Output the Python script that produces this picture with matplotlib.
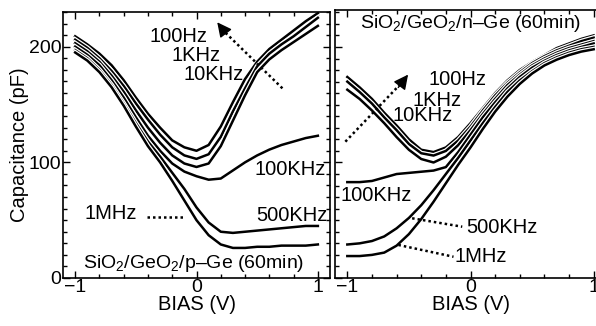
import matplotlib
matplotlib.use('Agg')
import matplotlib.pyplot as plt
import matplotlib.patheffects as pe
from matplotlib.ticker import MultipleLocator, FixedLocator

plt.rcParams['font.family'] = ['Liberation Sans', 'DejaVu Sans']
plt.rcParams['mathtext.fontset'] = 'custom'
plt.rcParams['mathtext.rm'] = 'Liberation Sans'

bias = [-1.0, -0.9, -0.8, -0.7, -0.6, -0.5, -0.4, -0.3, -0.2, -0.1, 0.0,
        0.1, 0.2, 0.3, 0.4, 0.5, 0.6, 0.7, 0.8, 0.9, 1.0]
freqs = ['100Hz', '1KHz', '10KHz', '100KHz', '500KHz', '1MHz']

# p-Ge (left panel), pF
p_100Hz = [209, 202, 194, 184, 171, 156, 142, 130, 119, 113, 110, 115, 131, 152, 172, 187, 198, 206, 214, 222, 229]
p_1KHz = [206, 199, 190, 179, 166, 151, 137, 124, 113, 106, 103, 107, 122, 144, 164, 183, 194, 202, 209, 217, 225]
p_10KHz = [203, 196, 187, 175, 161, 145, 130, 117, 106, 99, 96, 99, 114, 136, 158, 178, 189, 197, 204, 211, 218]
p_100KHz = [200, 193, 184, 171, 156, 139, 123, 110, 99, 92, 88, 85, 86, 93, 100, 106, 111, 115, 118, 121, 123]
p_500KHz = [197, 190, 180, 167, 151, 134, 118, 105, 91, 77, 61, 48, 40, 39, 40, 41, 42, 43, 44, 45, 45]
p_1MHz = [195, 188, 178, 165, 149, 131, 114, 100, 84, 67, 50, 37, 29, 26, 26, 27, 27, 28, 28, 28, 29]

# n-Ge (right panel), pF
n_100Hz = [174, 165, 155, 143, 132, 120, 111, 109, 113, 122, 134, 147, 160, 171, 180, 187, 193, 199, 203, 207, 210]
n_1KHz = [170, 161, 151, 139, 128, 116, 108, 106, 110, 119, 131, 145, 158, 169, 178, 186, 192, 197, 201, 205, 208]
n_10KHz = [163, 155, 145, 134, 122, 111, 103, 100, 105, 115, 128, 142, 155, 167, 176, 184, 190, 195, 199, 202, 205]
n_100KHz = [83, 83, 84, 87, 90, 91, 92, 93, 96, 109, 124, 139, 152, 164, 174, 182, 188, 193, 197, 200, 203]
n_500KHz = [29, 30, 32, 36, 43, 52, 63, 76, 90, 104, 119, 134, 148, 161, 171, 179, 186, 191, 195, 198, 200]
n_1MHz = [19, 19, 20, 22, 28, 38, 51, 66, 82, 98, 113, 129, 144, 157, 168, 177, 184, 189, 193, 196, 198]

p_curves = [p_100Hz, p_1KHz, p_10KHz, p_100KHz, p_500KHz, p_1MHz]
n_curves = [n_100Hz, n_1KHz, n_10KHz, n_100KHz, n_500KHz, n_1MHz]

fig = plt.figure(figsize=(5.96, 3.26), dpi=100)
ax1 = fig.add_axes([63/596, 48/326, 267/596, 266/326])
ax2 = fig.add_axes([335/596, 48/326, 271/596, 268/326])

halo = [pe.Stroke(linewidth=3.6, foreground='white'), pe.Normal()]
dots = (0, (1, 1.2))

for ax, curves, ytop in [(ax1, p_curves, 230), (ax2, n_curves, 232)]:
    for c in curves:
        ax.plot(bias, c, color='k', lw=1.8, path_effects=halo)
    ax.set_xlim(-1.1, 1.1)
    ax.set_ylim(0, ytop)
    ax.xaxis.set_major_locator(FixedLocator([-1, 0, 1]))
    ax.xaxis.set_minor_locator(MultipleLocator(0.2))
    ax.yaxis.set_major_locator(MultipleLocator(100))
    ax.yaxis.set_minor_locator(MultipleLocator(10))
    ax.tick_params(which='both', direction='in', top=True, right=True, width=1)
    ax.tick_params(which='major', length=5, labelsize=14, pad=1)
    ax.tick_params(which='minor', length=3)
    ax.set_xticklabels(['\u22121', '0', '1'])
    for s in ax.spines.values():
        s.set_linewidth(1.2)
    ax.set_xlabel('BIAS (V)', fontsize=14.5, labelpad=-1)

ax1.set_ylabel('Capacitance (pF)', fontsize=14.5, labelpad=0)
ax2.tick_params(which='both', labelleft=False)

fs = 14.5
# left panel annotations
ax1.text(-0.15, 209, '100Hz', fontsize=fs, ha='center', va='center')
ax1.text(0.0, 192, '1KHz', fontsize=fs, ha='center', va='center')
ax1.text(0.145, 176, '10KHz', fontsize=fs, ha='center', va='center')
ax1.plot([0.708, 0.22], [164, 214], color='k', lw=1.8, ls=dots)
ax1.annotate('', xy=(0.157, 223), xytext=(0.26, 209),
             arrowprops=dict(arrowstyle='-|>', color='k', lw=1, mutation_scale=22))
ax1.text(1.07, 93.5, '100KHz', fontsize=fs, ha='right', va='center')
ax1.text(1.08, 54, '500KHz', fontsize=fs, ha='right', va='center')
ax1.text(-0.707, 56, '1MHz', fontsize=fs, ha='center', va='center')
ax1.plot([-0.41, -0.1], [52.5, 52.5], color='k', lw=1.8, ls=dots)
ax1.text(-0.025, 12.5, 'SiO$_{\\mathrm{2}}$/GeO$_{\\mathrm{2}}$/p\u2013Ge (60min)',
         fontsize=14, ha='center', va='center')

# right panel annotations
ax2.text(0.0, 220, 'SiO$_{\\mathrm{2}}$/GeO$_{\\mathrm{2}}$/n\u2013Ge (60min)',
         fontsize=14, ha='center', va='center')
ax2.text(-0.106, 171.5, '100Hz', fontsize=fs, ha='center', va='center')
ax2.text(-0.27, 154, '1KHz', fontsize=fs, ha='center', va='center')
ax2.text(-0.386, 141, '10KHz', fontsize=fs, ha='center', va='center')
ax2.plot([-1.016, -0.55], [118, 170], color='k', lw=1.8, ls=dots)
ax2.annotate('', xy=(-0.493, 178), xytext=(-0.6, 163),
             arrowprops=dict(arrowstyle='-|>', color='k', lw=1, mutation_scale=22))
ax2.text(-0.764, 71.4, '100KHz', fontsize=fs, ha='center', va='center')
ax2.text(0.256, 43.7, '500KHz', fontsize=fs, ha='center', va='center')
ax2.plot([-0.474, -0.067], [51.7, 44.4], color='k', lw=1.8, ls=dots)
ax2.text(0.08, 18.6, '1MHz', fontsize=fs, ha='center', va='center')
ax2.plot([-0.585, -0.138], [28.6, 18.4], color='k', lw=1.8, ls=dots)

fig.savefig('out.png', dpi=100)
